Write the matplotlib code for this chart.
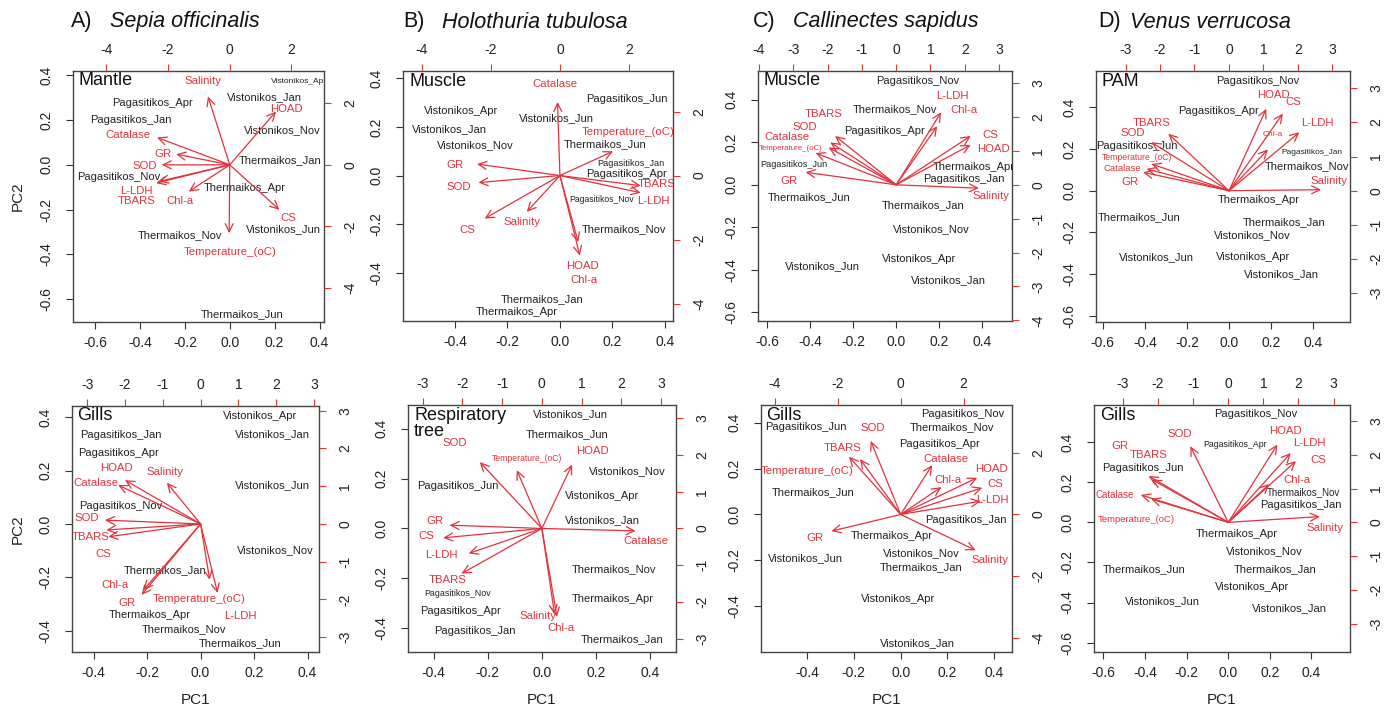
import numpy as np
import matplotlib
matplotlib.use("Agg")
import matplotlib.pyplot as plt
from matplotlib.ticker import MultipleLocator, FuncFormatter

plt.rcParams['font.family'] = ['Liberation Sans', 'DejaVu Sans']
plt.rcParams['axes.unicode_minus'] = False

nan = np.nan

# ---------------- shared names ----------------
SAMPLES = ["Pagasitikos_Jan", "Pagasitikos_Apr", "Pagasitikos_Jun", "Pagasitikos_Nov",
           "Thermaikos_Jan", "Thermaikos_Apr", "Thermaikos_Jun", "Thermaikos_Nov",
           "Vistonikos_Jan", "Vistonikos_Apr", "Vistonikos_Jun", "Vistonikos_Nov"]
VARIABLES = ["Salinity", "Temperature_(oC)", "Chl-a", "Catalase", "SOD", "GR",
             "TBARS", "L-LDH", "CS", "HOAD"]

# ---------------- A) Sepia officinalis - Mantle ----------------
A1_pc1 = [-0.44, -0.345, nan, -0.495, 0.224, 0.067, 0.053, -0.221, 0.156, 0.31, 0.24, 0.233]
A1_pc2 = [0.199, 0.274, nan, -0.053, 0.022, -0.105, -0.667, -0.315, 0.304, 0.374, -0.285, 0.157]
A1_load1 = [-0.707, -0.02, -1.33, -2.357, -2.207, -1.738, -2.30, -2.39, 1.61, 1.50]
A1_load2 = [2.22, -2.22, -0.867, 0.888, 0.0, 0.347, -0.54, -0.596, -1.46, 1.733]
A1_lab1 = [-0.87, 0.0, -1.63, -3.29, -2.77, -2.17, -3.02, -3.02, 1.90, 1.85]
A1_lab2 = [2.71, -2.82, -1.17, 0.976, -0.03, 0.358, -1.17, -0.846, -1.73, 1.81]

# ---------------- B) Holothuria tubulosa - Muscle ----------------
B1_pc1 = [0.271, 0.253, 0.255, 0.16, -0.066, -0.163, 0.173, 0.243, -0.42, -0.377, -0.013, -0.322]
B1_pc2 = [0.051, 0.007, 0.313, -0.098, -0.507, -0.562, 0.131, -0.222, 0.189, 0.264, 0.237, 0.126]
B1_load1 = [-0.96, 1.54, 0.577, -0.07, -2.36, -2.40, 2.34, 2.34, -2.18, 0.53]
B1_load2 = [-1.136, 0.757, -2.50, 2.30, -0.22, 0.36, -0.315, -0.536, -1.345, -2.08]
B1_lab1 = [-1.09, 1.97, 0.70, -0.14, -2.93, -3.03, 2.80, 2.70, -2.69, 0.64]
B1_lab2 = [-1.45, 1.37, -3.27, 2.86, -0.347, 0.338, -0.26, -0.80, -1.71, -2.82]

# ---------------- C) Callinectes sapidus - Muscle ----------------
C1_pc1 = [0.313, -0.054, -0.474, 0.102, 0.126, 0.36, -0.407, -0.006, 0.244, 0.108, -0.343, 0.162]
C1_pc2 = [0.025, 0.253, 0.094, 0.487, -0.098, 0.086, -0.058, 0.355, -0.448, -0.349, -0.384, -0.208]
C1_load1 = [2.41, -2.35, 1.195, -1.97, -1.92, -2.64, -1.78, 1.31, 2.17, 2.17]
C1_load2 = [-0.10, 0.94, 1.73, 1.10, 1.25, 0.37, 1.44, 2.14, 1.44, 1.18]
C1_lab1 = [2.77, -3.06, 1.97, -3.18, -2.66, -3.13, -2.11, 1.63, 2.73, 2.83]
C1_lab2 = [-0.33, 1.08, 2.20, 1.41, 1.70, 0.126, 2.08, 2.61, 1.46, 1.05]

# ---------------- D) Venus verrucosa - PAM ----------------
D1_pc1 = [0.394, -0.05, -0.44, 0.138, 0.263, 0.14, -0.427, 0.372, 0.247, 0.116, -0.347, 0.113]
D1_pc2 = [0.184, 0.381, 0.213, 0.528, -0.152, -0.045, -0.128, 0.12, -0.40, -0.32, -0.317, -0.213]
D1_load1 = [2.67, -2.25, 1.13, -2.39, -2.25, -2.49, -1.76, 2.04, 1.56, 1.08]
D1_load2 = [0.03, 0.785, 1.21, 0.64, 1.42, 0.54, 1.67, 1.71, 2.26, 2.40]
D1_lab1 = [2.90, -2.68, 1.27, -3.08, -2.79, -2.87, -2.25, 2.55, 1.87, 1.30]
D1_lab2 = [0.29, 0.98, 1.64, 0.64, 1.70, 0.26, 1.99, 1.98, 2.60, 2.81]

# ---------------- A) Sepia officinalis - Gills ----------------
A2_pc1 = [-0.298, -0.306, nan, -0.299, -0.134, -0.192, 0.148, -0.063, 0.27, 0.224, 0.27, 0.278]
A2_pc2 = [0.335, 0.266, nan, 0.068, -0.172, -0.34, -0.445, -0.393, 0.338, 0.404, 0.146, -0.097]
A2_load1 = [-0.89, 0.24, -1.51, -2.18, -2.53, -1.56, -2.49, 0.45, -2.44, -2.0]
A2_load2 = [1.09, -1.48, -1.75, 1.03, 0.10, -1.88, -0.16, -1.83, -0.34, 1.16]
A2_lab1 = [-0.93, -0.05, -2.27, -2.77, -3.02, -1.95, -2.92, 1.04, -2.56, -2.23]
A2_lab2 = [1.37, -1.99, -1.63, 1.09, 0.15, -2.10, -0.34, -2.43, -0.80, 1.49]

# ---------------- B) Holothuria tubulosa - Respiratory tree ----------------
B2_pc1 = [-0.248, -0.301, -0.309, -0.31, 0.297, 0.262, 0.094, 0.268, 0.223, 0.222, 0.105, 0.316]
B2_pc2 = [-0.41, -0.33, 0.169, -0.26, -0.443, -0.284, 0.378, -0.164, 0.033, 0.131, 0.457, 0.231]
B2_load1 = [0.32, -0.63, 0.38, 2.36, -1.56, -2.32, -2.02, -1.84, -2.48, 0.76]
B2_load2 = [-2.34, 1.59, -2.41, -0.065, 1.81, 0.09, -1.23, -0.68, -0.255, 1.74]
B2_lab1 = [-0.086, -0.38, 0.49, 2.63, -2.19, -2.69, -2.37, -2.53, -2.90, 1.28]
B2_lab2 = [-2.38, 1.91, -2.71, -0.35, 2.32, 0.20, -1.41, -0.73, -0.21, 2.11]

# ---------------- C) Callinectes sapidus - Gills ----------------
C2_pc1 = [0.277, 0.166, -0.406, 0.264, 0.087, -0.036, -0.373, 0.221, 0.073, -0.012, -0.407, 0.09]
C2_pc2 = [-0.024, 0.306, 0.38, 0.439, -0.23, -0.096, 0.099, 0.381, -0.561, -0.368, -0.19, -0.168]
C2_load1 = [2.38, -1.29, 1.29, 1.0, -0.95, -2.20, -1.64, 2.54, 2.59, 2.43]
C2_load2 = [-1.16, 1.79, 0.887, 1.60, 2.38, -0.54, 1.87, 0.43, 0.864, 1.19]
C2_lab1 = [2.83, -2.97, 1.50, 1.43, -0.90, -2.73, -1.85, 2.91, 3.01, 2.88]
C2_lab2 = [-1.48, 1.41, 1.10, 1.81, 2.81, -0.76, 2.16, 0.455, 0.974, 1.48]

# ---------------- D) Venus verrucosa - Gills ----------------
D2_pc1 = [0.349, 0.032, -0.41, 0.13, 0.227, 0.04, -0.404, 0.362, 0.296, 0.114, -0.318, 0.175]
D2_pc2 = [0.087, 0.387, 0.273, 0.54, -0.233, -0.06, -0.233, 0.153, -0.43, -0.322, -0.393, -0.142]
D2_load1 = [2.61, -2.20, 1.17, -2.49, -1.08, -2.18, -2.27, 1.78, 1.93, 1.40]
D2_load2 = [0.17, 0.69, 1.13, 0.81, 2.25, 1.27, 1.37, 2.05, 1.81, 2.30]
D2_lab1 = [2.76, -2.62, 1.97, -3.23, -1.38, -3.09, -2.27, 2.31, 2.57, 1.62]
D2_lab2 = [-0.18, 0.08, 1.25, 0.80, 2.61, 2.27, 1.98, 2.35, 1.84, 2.69]

# ---------------- styling / layout ----------------
W, H = 1395, 710
RED = '#e2323c'
INK = '#222222'
SAMPLE_FS = 8.0
VAR_FS = 8.2

SMALL = {
    ('A1', 'Vistonikos_Apr'): 6.0,
    ('B1', 'Pagasitikos_Nov'): 6.2, ('B1', 'Pagasitikos_Jan'): 6.6,
    ('C1', 'Pagasitikos_Jun'): 6.6, ('C1', 'Temperature_(oC)'): 5.7,
    ('D1', 'Pagasitikos_Jan'): 6.0, ('D1', 'Chl-a'): 6.0,
    ('D1', 'Temperature_(oC)'): 6.2, ('D1', 'Catalase'): 6.8,
    ('B2', 'Pagasitikos_Nov'): 6.4, ('B2', 'Temperature_(oC)'): 6.2,
    ('D2', 'Pagasitikos_Apr'): 6.3, ('D2', 'Thermaikos_Nov'): 7.0,
    ('D2', 'Catalase'): 7.0, ('D2', 'Temperature_(oC)'): 6.8,
}

PANELS = [
    dict(key='A1', rect=(72.7, 70.7, 324, 321.7), lim=(-0.70, 0.42), ratio=7.28, step=2, name='Mantle',
         data=(A1_pc1, A1_pc2, A1_load1, A1_load2, A1_lab1, A1_lab2)),
    dict(key='B1', rect=(403.3, 71, 672.7, 320.7), lim=(-0.597, 0.43), ratio=7.6, step=2, name='Muscle',
         data=(B1_pc1, B1_pc2, B1_load1, B1_load2, B1_lab1, B1_lab2)),
    dict(key='C1', rect=(758.3, 70.7, 1011.7, 321), lim=(-0.641, 0.537), ratio=6.27, step=1, name='Muscle',
         data=(C1_pc1, C1_pc2, C1_load1, C1_load2, C1_lab1, C1_lab2)),
    dict(key='D1', rect=(1096, 71, 1350, 322.3), lim=(-0.632, 0.575), ratio=6.1, step=1, name='PAM',
         data=(D1_pc1, D1_pc2, D1_load1, D1_load2, D1_lab1, D1_lab2)),
    dict(key='A2', rect=(72, 405.7, 319, 652.3), lim=(-0.481, 0.443), ratio=7.07, step=1, name='Gills',
         data=(A2_pc1, A2_pc2, A2_load1, A2_load2, A2_lab1, A2_lab2)),
    dict(key='B2', rect=(408.3, 405, 675.7, 651.7), lim=(-0.494, 0.495), ratio=6.8, step=1, name='Respiratory\ntree',
         data=(B2_pc1, B2_pc2, B2_load1, B2_load2, B2_lab1, B2_lab2)),
    dict(key='C2', rect=(760.7, 405, 1012.3, 651.7), lim=(-0.598, 0.477), ratio=7.43, step=2, name='Gills',
         data=(C2_pc1, C2_pc2, C2_load1, C2_load2, C2_lab1, C2_lab2)),
    dict(key='D2', rect=(1094, 405, 1350, 651.7), lim=(-0.645, 0.585), ratio=5.93, step=1, name='Gills',
         data=(D2_pc1, D2_pc2, D2_load1, D2_load2, D2_lab1, D2_lab2)),
]

TITLES = [(71, 'A)', 110, 'Sepia officinalis'),
          (403, 'B)', 442, 'Holothuria tubulosa'),
          (753, 'C)', 793, 'Callinectes sapidus'),
          (1098, 'D)', 1130, 'Venus verrucosa')]

prim_fmt = FuncFormatter(lambda v, p: f"{round(v, 1) + 0:.1f}")
sec_fmt = FuncFormatter(lambda v, p: f"{int(round(v))}")

fig = plt.figure(figsize=(W / 100, H / 100), dpi=100)


def frac_rect(r):
    l, t, rr, b = r
    return [l / W, 1 - b / H, (rr - l) / W, (b - t) / H]


for i, P in enumerate(PANELS):
    rect = frac_rect(P['rect'])
    pc1, pc2, ld1, ld2, lb1, lb2 = P['data']
    lo, hi = P['lim']
    ratio = P['ratio']

    ax = fig.add_axes(rect, label='prim' + P['key'])
    ax.set_xlim(lo, hi)
    ax.set_ylim(lo, hi)
    ax.xaxis.set_major_locator(MultipleLocator(0.2))
    ax.yaxis.set_major_locator(MultipleLocator(0.2))
    ax.xaxis.set_major_formatter(prim_fmt)
    ax.yaxis.set_major_formatter(prim_fmt)
    ax.tick_params(axis='both', direction='out', length=5, width=0.8, color='#333333',
                   labelsize=10, labelcolor='#222222')
    ax.tick_params(axis='x', pad=5)
    ax.tick_params(axis='y', pad=9, labelrotation=90)
    for lab in ax.get_yticklabels():
        lab.set_va('center')
    for s in ax.spines.values():
        s.set_color('#444444')
        s.set_linewidth(1.0)

    # samples (scores)
    for name, x, y in zip(SAMPLES, pc1, pc2):
        if np.isnan(x) or np.isnan(y):
            continue
        fs = SMALL.get((P['key'], name), SAMPLE_FS)
        ax.text(x, y, name, color=INK, fontsize=fs, ha='center', va='center', clip_on=True)

    ax.text(0.022, 0.993, P['name'], transform=ax.transAxes, fontsize=13, ha='left', va='top',
            color='#111111', linespacing=0.92)

    # secondary axes for loadings
    ax2 = fig.add_axes(rect, label='sec' + P['key'], frame_on=False)
    ax2.patch.set_visible(False)
    ax2.set_xlim(lo * ratio, hi * ratio)
    ax2.set_ylim(lo * ratio, hi * ratio)
    ax2.xaxis.tick_top()
    ax2.yaxis.tick_right()
    ax2.xaxis.set_major_locator(MultipleLocator(P['step']))
    ax2.yaxis.set_major_locator(MultipleLocator(P['step']))
    ax2.xaxis.set_major_formatter(sec_fmt)
    ax2.yaxis.set_major_formatter(sec_fmt)
    ax2.tick_params(axis='both', direction='out', length=5, width=0.8, color=RED,
                    labelsize=10, labelcolor='#222222')
    ax2.tick_params(axis='x', pad=5)
    ax2.tick_params(axis='y', pad=9, labelrotation=90)
    for lab in ax2.get_yticklabels():
        lab.set_va('center')

    for name, x, y, tx, ty in zip(VARIABLES, ld1, ld2, lb1, lb2):
        ax2.annotate('', xy=(x, y), xytext=(0, 0), xycoords='data', textcoords='data',
                     arrowprops=dict(arrowstyle='->,head_length=0.45,head_width=0.22', color=RED,
                                     lw=0.9, shrinkA=0, shrinkB=0, mutation_scale=13))
        fs = SMALL.get((P['key'], name), VAR_FS)
        ax2.text(tx, ty, name, color=RED, fontsize=fs, ha='center', va='center', clip_on=True)

    l, t, r, b = P['rect']
    if P['key'] in ('A1', 'A2'):
        fig.text(18 / W, 1 - ((t + b) / 2) / H, 'PC2', rotation=90, fontsize=11,
                 ha='center', va='center', color='#222222')
    if P['key'].endswith('2'):
        fig.text(((l + r) / 2) / W, 1 - 700 / H, 'PC1', fontsize=11,
                 ha='center', va='center', color='#222222')

for xl, lt, xs, sp in TITLES:
    fig.text(xl / W, 1 - 22 / H, lt, fontsize=15.5, ha='left', va='center', color='#111111')
    fig.text(xs / W, 1 - 22 / H, sp, fontsize=15.5, style='italic', ha='left', va='center',
             color='#111111')

fig.savefig('out.png', dpi=100)
